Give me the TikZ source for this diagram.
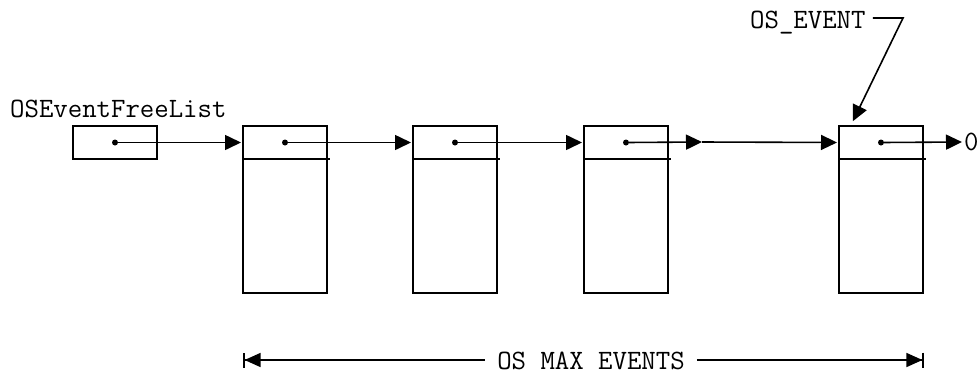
\documentclass[tikz,border=0pt]{standalone}
\usepackage{fontspec}
\usetikzlibrary{arrows.meta,positioning}
\tikzset{
  cell/.style={draw, line width=1.4pt, minimum width=84pt, minimum height=33pt, inner sep=0pt, outer sep=0pt},
  body/.style={cell, minimum height=134pt},
  dot/.style={circle, fill, inner sep=0pt, minimum size=6pt},
  link/.style={-{Triangle[length=16pt,width=15pt]}, line width=1.6pt, shorten >=2pt},
  dimleft/.style={{Bar[width=15pt,sep=0pt]Triangle[length=16pt,width=14pt]}-, line width=1.6pt},
  dimright/.style={-{Triangle[length=16pt,width=14pt]Bar[width=15pt,sep=0pt]}, line width=1.6pt},
  code/.style={font=\fontsize{28}{28}\ttfamily, inner sep=0pt}
}

\begin{document}
\begin{tikzpicture}[x=1pt, y=-1pt]
\useasboundingbox (0,0) rectangle (978,376);
% free list head
\node[code, anchor=base west] (fltext) at (10,117) {OSEventFreeList};
\node[cell, anchor=north west] (c0) at (73,126) {};
\node[dot] (d0) at (c0.center) {};
% event control blocks
\foreach \i/\x in {1/243,2/413,3/584,4/839} {
  \node[cell, anchor=north west] (c\i) at (\x,126) {};
  \node[body, below=0pt of c\i] (b\i) {};
  \draw[line width=1.4pt] (c\i.south east) -- +(3,0);
  \node[dot] (d\i) at (c\i.center) {};
}
\coordinate (mid) at (702,142);
\node[code, anchor=west] (zero) at (964,142) {0};
\foreach \a/\b in {d0/c1,d1/c2,d2/c3} \draw[link] (\a) -- (\b.west);
\draw[link, shorten >=0pt] (d3) -- (mid);
\draw[link] (mid) -- (c4.west);
\draw[link] (d4) -- (zero.west);
% OS_EVENT pointer
\node[code, anchor=base west] (ev) at (750,28) {OS\_EVENT};
\coordinate (evk) at (903,18);
\coordinate (evt) at ([xshift=13pt,yshift=3pt]c4.north west);
\draw[link] ([xshift=7pt]ev.east |- evk) -- (evk) -- (evt);
% size of the pool
\coordinate (dl) at (243,360);
\coordinate (dr) at (924,360);
\node[code, anchor=base, inner xsep=12pt] (mx) at (591,369) {OS MAX EVENTS};
\draw[dimleft] (dl) -- (dl -| mx.west);
\draw[dimright] (dr -| mx.east) -- (dr);
\end{tikzpicture}
\end{document}
